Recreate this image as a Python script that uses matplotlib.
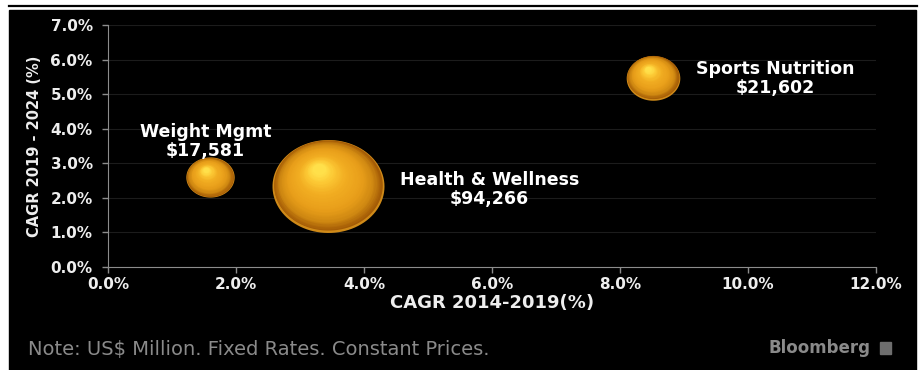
import numpy as np
import matplotlib
matplotlib.use("Agg")
import matplotlib.pyplot as plt
from matplotlib.path import Path
from matplotlib.markers import MarkerStyle
from matplotlib.colors import LinearSegmentedColormap
from matplotlib.patches import Rectangle
from matplotlib.lines import Line2D
import matplotlib.transforms as mtransforms

# segment data: CAGR 2014-2019, CAGR 2019-2024, market size (US$ m)
segments = ["Weight Mgmt", "Health & Wellness", "Sports Nutrition"]
cagr_past = [1.59, 3.43, 8.51]
cagr_future = [2.59, 2.33, 5.48]
market_size = [17581, 94266, 21602]

# where each label sits (data coords)
label_x = [1.52, 5.96, 10.42]
label_y = [3.64, 2.25, 5.46]

x_ticks = [0, 2, 4, 6, 8, 10, 12]
y_ticks = [0, 1, 2, 3, 4, 5, 6, 7]

size_scale = 0.069

fig = plt.figure(figsize=(9.22, 3.70), dpi=100, facecolor="white")

# black panel with a rule along the top
fig.patches.append(Rectangle((9 / 922, 0), 907 / 922, 1 - 10 / 370,
                             transform=fig.transFigure, color="black", zorder=-5))
fig.lines.append(Line2D([9 / 922, 917 / 922], [1 - 5.5 / 370] * 2,
                        transform=fig.transFigure, color="black", lw=1.6))

ax = fig.add_axes([108 / 922, 1 - 267 / 370, 768 / 922, 242 / 370])
ax.set_facecolor("black")
ax.set_xlim(0, 12)
ax.set_ylim(0, 7)

ax.set_xticks(x_ticks)
ax.set_yticks(y_ticks)
ax.set_xticklabels([f"{v:.1f}%" for v in x_ticks])
ax.set_yticklabels([f"{v:.1f}%" for v in y_ticks])
ax.tick_params(colors="#8c8c8c", labelcolor="#eeeeee", length=4, width=1)
ax.tick_params(axis="y", pad=7)
ax.tick_params(axis="x", pad=3)
for lab in ax.get_xticklabels() + ax.get_yticklabels():
    lab.set_fontweight("bold")
    lab.set_fontsize(11)

for side in ["top", "right"]:
    ax.spines[side].set_visible(False)
for side in ["left", "bottom"]:
    ax.spines[side].set_color("#8c8c8c")
ax.yaxis.grid(True, color="#1c1c1c", lw=0.8)
ax.set_axisbelow(True)

ax.set_xlabel("CAGR 2014-2019(%)", color="#eeeeee", fontsize=13,
              fontweight="bold", labelpad=2)
ax.set_ylabel("CAGR 2019 - 2024 (%)", color="#eeeeee", fontsize=10.5,
              fontweight="bold", labelpad=6)

# slightly flattened bubble marker
theta = np.linspace(0, 2 * np.pi, 100)
ell = Path(np.column_stack([np.cos(theta), 0.83 * np.sin(theta)]), closed=True)
marker = MarkerStyle(ell)

gold = LinearSegmentedColormap.from_list(
    "gold", [(0.0, "#a45c06"), (0.15, "#cf8812"), (0.35, "#e89e1a"),
             (0.65, "#f2ae22"), (0.85, "#fcc834"), (1.0, "#ffe04a")])

n_layers = 40
for x, y, v in zip(cagr_past, cagr_future, market_size):
    s = v * size_scale
    d = np.sqrt(s)  # diameter in points
    # lighter rim along the bottom edge
    ax.scatter([x], [y], s=s, marker=marker, color="#cf8a18", lw=0, zorder=3)
    for i in range(n_layers):
        t = i / (n_layers - 1)
        frac = 0.97 - 0.85 * t
        off = mtransforms.offset_copy(ax.transData, fig=fig,
                                      x=-0.08 * d * t,
                                      y=0.012 * d + 0.14 * d * t,
                                      units="points")
        ax.scatter([x], [y], s=s * frac ** 2, marker=marker,
                   color=gold(t), lw=0, transform=off, zorder=3)

labels = [f"{n}\n${v:,}" for n, v in zip(segments, market_size)]
for lx, ly, txt in zip(label_x, label_y, labels):
    ax.text(lx, ly, txt, color="white", fontsize=12.5, fontweight="bold",
            ha="center", va="center", linespacing=1.05, zorder=4)

fig.text(28 / 922, 1 - 350 / 370, "Note: US$ Million. Fixed Rates. Constant Prices.",
         color="#8a8a8a", fontsize=14, ha="left", va="center")
fig.text(870 / 922, 1 - 348 / 370, "Bloomberg", color="#8a8a8a", fontsize=12,
         fontweight="bold", ha="right", va="center")
fig.patches.append(Rectangle((880 / 922, 1 - 354 / 370), 11 / 922, 12 / 370,
                             transform=fig.transFigure, color="#6e6e6e"))

fig.savefig("out.png", dpi=100, facecolor=fig.get_facecolor())
